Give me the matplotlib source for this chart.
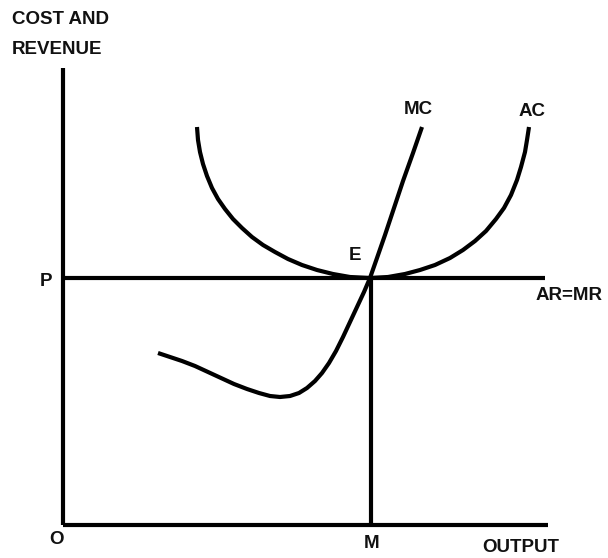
import matplotlib
matplotlib.use("Agg")
import matplotlib.pyplot as plt

# pixel coordinates (y grows downward)
origin = (63, 525)
x_axis_end = 548
y_axis_top = 68
price_y = 278
output_m = 371
ar_end = 545

# AC curve, U shaped, touching AR=MR at E
ac_x = [197, 198, 200, 203, 207, 212, 218, 225, 233, 242, 252, 263, 275, 288,
        302, 317, 333, 350, 370, 388, 405, 420, 435, 450, 463, 475, 486, 496,
        504, 511, 517, 521, 525, 527, 529]
ac_y = [127, 140, 152, 164, 176, 188, 199, 209, 219, 228, 237, 245, 252, 259,
        265, 270, 274, 277, 278, 277, 274, 270, 265, 258, 250, 241, 231, 219,
        208, 195, 180, 167, 152, 140, 127]

# MC curve, dips then rises through E
mc_x = [158, 170, 182, 195, 208, 221, 234, 247, 259, 270, 280, 290, 299, 307,
        315, 322, 329, 336, 343, 350, 357, 364, 370, 377, 385, 394, 403, 413, 422]
mc_y = [353, 357, 361, 366, 372, 378, 384, 389, 393, 396, 397, 396, 393, 388,
        381, 373, 363, 351, 337, 322, 307, 292, 278, 258, 235, 208, 181, 153, 127]

labels = {
    "COST AND": (12, 20, "left"),
    "REVENUE": (12, 49, "left"),
    "MC": (418, 109, "center"),
    "AC": (532, 112, "center"),
    "E": (355, 256, "center"),
    "P": (46, 282, "center"),
    "AR=MR": (569, 296, "center"),
    "O": (57, 539, "center"),
    "M": (372, 544, "center"),
    "OUTPUT": (521, 548, "center"),
}

fig = plt.figure(figsize=(6.08, 5.58), dpi=100)
ax = fig.add_axes([0, 0, 1, 1])
ax.set_xlim(0, 608)
ax.set_ylim(558, 0)
ax.axis("off")

lw = 3
col = "black"
# axes
ax.plot([origin[0], origin[0]], [y_axis_top, origin[1]], color=col, lw=lw, solid_capstyle="butt")
ax.plot([origin[0], x_axis_end], [origin[1], origin[1]], color=col, lw=lw, solid_capstyle="butt")
# AR = MR line and the drop to M
ax.plot([origin[0], ar_end], [price_y, price_y], color=col, lw=lw, solid_capstyle="butt")
ax.plot([output_m, output_m], [price_y, origin[1]], color=col, lw=lw, solid_capstyle="butt")

ax.plot(ac_x, ac_y, color=col, lw=lw, solid_capstyle="butt", solid_joinstyle="round")
ax.plot(mc_x, mc_y, color=col, lw=lw, solid_capstyle="butt", solid_joinstyle="round")

for txt, (x, y, ha) in labels.items():
    ax.text(x, y, txt, ha=ha, va="center", fontsize=13.5, fontweight="bold",
            family="Liberation Sans", color="#111111")

fig.savefig("out.png", dpi=100)
